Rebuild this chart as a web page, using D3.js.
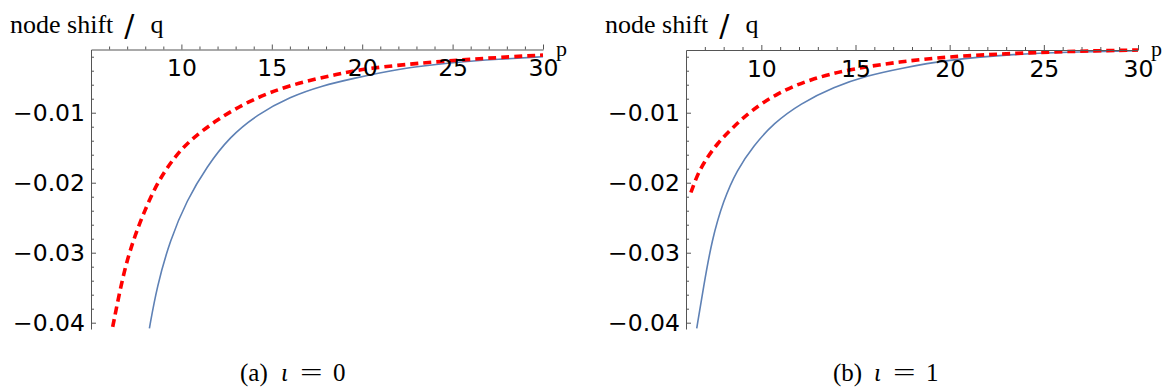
<!DOCTYPE html>
<html>
<head>
<meta charset="utf-8">
<script src="https://cdn.jsdelivr.net/npm/d3@7.9.0/dist/d3.min.js"></script>
<style>
  body { margin: 0; background: #fff; }
  svg { display: block; }
  .tick text { font-family: "DejaVu Sans", sans-serif; font-size: 23.5px; fill: #000; }
  .serif { font-family: "Liberation Serif", serif; fill: #000; }
</style>
</head>
<body>
<svg id="chart" width="1164" height="389"></svg>
<script>
// panel (a): iota = 0
const pBlueA = [8.23, 8.64, 9.37, 10.30, 11.40, 12.69, 14.17, 16.01, 17.86, 19.33, 22.1, 24.87, 27.6, 30];
const vBlueA = [-0.0408, -0.0349, -0.0282, -0.0225, -0.0177, -0.0134, -0.0103, -0.0077, -0.0061, -0.0052, -0.00366, -0.00286, -0.00233, -0.0020];
const pRedA = [6.20, 6.79, 7.34, 7.90, 8.64, 9.56, 10.48, 11.96, 13.8, 16.01, 18.78, 20.26, 23.95, 27.63, 30];
const vRedA = [-0.0406, -0.0329, -0.0282, -0.0244, -0.0201, -0.0165, -0.0139, -0.0110, -0.0082, -0.0060, -0.0044, -0.00366, -0.00271, -0.00209, -0.00176];

// panel (b): iota = 1
const pBlueB = [6.57, 6.93, 7.37, 7.99, 8.70, 9.59, 10.65, 12.07, 13.85, 15.62, 17.39, 19.84, 23.38, 26.93, 30];
const vBlueB = [-0.0408, -0.0349, -0.0282, -0.0225, -0.0182, -0.0147, -0.0115, -0.0087, -0.0063, -0.0047, -0.00366, -0.00247, -0.00161, -0.00129, -0.00114];
const pRedB = [6.26, 6.57, 6.93, 7.64, 8.53, 9.41, 10.83, 12.61, 14.73, 17.39, 19.84, 23.38, 26.93, 30];
const vRedB = [-0.0214, -0.0191, -0.0172, -0.0144, -0.0120, -0.0098, -0.0072, -0.0052, -0.00375, -0.00271, -0.0020, -0.00151, -0.00119, -0.00104];

const xTicks = [10, 15, 20, 25, 30];
const yTicks = [-0.01, -0.02, -0.03, -0.04];
const yMinor = d3.range(-0.002, -0.041, -0.002);

const panels = [
  { left: 91, right: 543, top: 49.5, xMin: 5, yTop: -0.00097, blue: [pBlueA, vBlueA], red: [pRedA, vRedA],
    titleX: 10, capX: 240, cap: ["(a)", "ι", "=", "0"] },
  { left: 686, right: 1138, top: 50, xMin: 6, yTop: -0.00104, blue: [pBlueB, vBlueB], red: [pRedB, vRedB],
    titleX: 605, capX: 833, cap: ["(b)", "ι", "=", "1"] }
];

const svg = d3.select('#chart');
const bottom = 329;

panels.forEach((pn, i) => {
  const x = d3.scaleLinear().domain([pn.xMin, 30]).range([pn.left, pn.right]);
  const y = d3.scaleLinear().domain([-0.0409, pn.yTop]).range([bottom, pn.top]);
  const g = svg.append('g');

  const clipId = 'clip' + i;
  svg.append('clipPath').attr('id', clipId)
    .append('rect').attr('x', pn.left).attr('y', pn.top - 6)
    .attr('width', pn.right - pn.left + 4).attr('height', bottom - pn.top + 6);

  // curves (basis smooths the hand-read points)
  const line = d3.line().x(d => x(d[0])).y(d => y(d[1])).curve(d3.curveBasis);
  g.append('path')
    .attr('d', line(d3.zip(...pn.blue)))
    .attr('fill', 'none').attr('stroke', '#5E81B5').attr('stroke-width', 1.6)
    .attr('clip-path', `url(#${clipId})`);
  g.append('path')
    .attr('d', line(d3.zip(...pn.red)))
    .attr('fill', 'none').attr('stroke', '#FF0000').attr('stroke-width', 3.6)
    .attr('stroke-dasharray', '8,5')
    .attr('clip-path', `url(#${clipId})`);

  // x axis: ticks point up, labels below
  const xMinor = d3.range(pn.xMin + 1, 30).filter(v => !xTicks.includes(v));
  g.append('g').attr('transform', `translate(0,${pn.top})`)
    .call(d3.axisTop(x).tickValues(xTicks).tickSize(5).tickFormat('').tickSizeOuter(0))
    .call(a => a.select('.domain').attr('stroke', '#555'))
    .call(a => a.selectAll('.tick line').attr('stroke', '#555'));
  g.append('g').attr('transform', `translate(0,${pn.top})`)
    .call(d3.axisTop(x).tickValues(xMinor).tickSize(3).tickFormat(''))
    .call(a => a.select('.domain').remove())
    .call(a => a.selectAll('.tick line').attr('stroke', '#555'));
  g.append('g').attr('transform', `translate(0,${pn.top})`)
    .call(d3.axisBottom(x).tickValues(xTicks).tickSize(0).tickPadding(10).tickFormat(d3.format('d')))
    .call(a => a.select('.domain').remove());

  // y axis: ticks point right, labels left
  g.append('g').attr('transform', `translate(${pn.left},0)`)
    .call(d3.axisRight(y).tickValues(yTicks).tickSize(5).tickFormat('').tickSizeOuter(0))
    .call(a => a.select('.domain').attr('stroke', '#555'))
    .call(a => a.selectAll('.tick line').attr('stroke', '#555'));
  g.append('g').attr('transform', `translate(${pn.left},0)`)
    .call(d3.axisRight(y).tickValues(yMinor.filter(v => !yTicks.some(t => Math.abs(t - v) < 1e-9))).tickSize(3).tickFormat(''))
    .call(a => a.select('.domain').remove())
    .call(a => a.selectAll('.tick line').attr('stroke', '#555'));
  g.append('g').attr('transform', `translate(${pn.left},0)`)
    .call(d3.axisLeft(y).tickValues(yTicks).tickSize(0).tickPadding(6).tickFormat(d3.format('.2f')))
    .call(a => a.select('.domain').remove());

  // axis label p
  g.append('text').attr('class', 'serif')
    .attr('x', pn.right + 13).attr('y', pn.top + 6)
    .attr('font-size', 22).text('p');

  // title: node shift / q
  const t = g.append('text').attr('x', pn.titleX).attr('y', 33).attr('font-size', 26);
  t.append('tspan').attr('class', 'serif').text('node shift');
  t.append('tspan').attr('dx', 11).attr('dy', 3).attr('font-family', 'DejaVu Sans').attr('font-size', 30).text('/');
  t.append('tspan').attr('class', 'serif').attr('dx', 16).attr('dy', -3).text('q');

  // caption
  const cy = 381;
  const offs = [0, 41, 60, 93];
  pn.cap.forEach((s, k) => {
    const tx = g.append('text').attr('class', 'serif')
      .attr('x', pn.capX + offs[k]).attr('y', cy)
      .attr('font-size', 25)
      .attr('font-style', k === 1 ? 'italic' : null)
      .text(s);
    if (k === 2) {
      tx.attr('x', 0).attr('y', 0)
        .attr('transform', `translate(${pn.capX + offs[k]},${cy}) scale(1.6,1)`);
    }
  });
});
</script>
</body>
</html>
